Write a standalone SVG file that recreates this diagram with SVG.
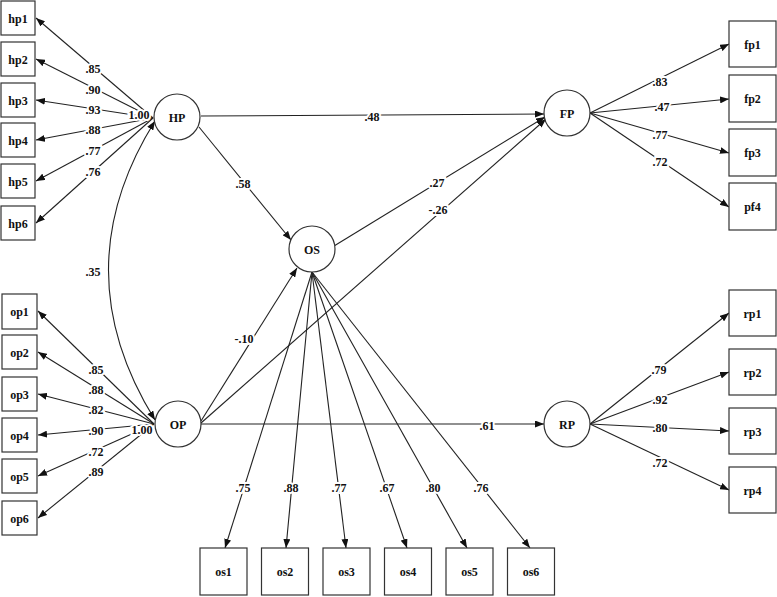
<svg xmlns="http://www.w3.org/2000/svg" width="777" height="597" viewBox="0 0 777 597">
<style>
.box{fill:#fff;stroke:#333;stroke-width:1.2}
.lat{fill:#fff;stroke:#333;stroke-width:1.2}
.t{font-family:"Liberation Serif",serif;font-weight:bold;font-size:12px;fill:#111;text-anchor:middle;dominant-baseline:central}
.ln{stroke:#222;stroke-width:1.1;fill:none}
.a{marker-end:url(#ah)}
.lb{font-family:"Liberation Serif",serif;font-weight:bold;font-size:12px;fill:#111;text-anchor:middle;dominant-baseline:central;stroke:#fff;stroke-width:4;paint-order:stroke}
</style>
<defs>
<marker id="ah" markerUnits="userSpaceOnUse" markerWidth="9" markerHeight="7" refX="9" refY="3.5" orient="auto">
<path d="M0,0 L9,3.5 L0,7 z" fill="#111"/>
</marker>
<marker id="ahs" markerUnits="userSpaceOnUse" markerWidth="9" markerHeight="7" refX="0" refY="3.5" orient="auto">
<path d="M9,0 L0,3.5 L9,7 z" fill="#111"/>
</marker>
</defs>
<rect width="777" height="597" fill="#fff"/>
<g id="connectors">
<!-- HP loadings -->
<line class="ln a" x1="153" y1="118" x2="36" y2="18"/>
<line class="ln a" x1="153" y1="118" x2="36" y2="59"/>
<line class="ln a" x1="153" y1="118" x2="36" y2="100"/>
<line class="ln a" x1="153" y1="118" x2="36" y2="140"/>
<line class="ln a" x1="153" y1="118" x2="36" y2="181"/>
<line class="ln a" x1="153" y1="118" x2="36" y2="223"/>
<!-- OP loadings -->
<line class="ln a" x1="154" y1="424" x2="38" y2="311"/>
<line class="ln a" x1="154" y1="424" x2="38" y2="352"/>
<line class="ln a" x1="154" y1="424" x2="38" y2="394"/>
<line class="ln a" x1="154" y1="424" x2="38" y2="435"/>
<line class="ln a" x1="154" y1="424" x2="38" y2="476"/>
<line class="ln a" x1="154" y1="424" x2="38" y2="518"/>
<!-- covariance -->
<path class="ln" d="M155,121 Q62,270 155,420" marker-start="url(#ahs)" marker-end="url(#ah)"/>
<!-- structural -->
<line class="ln a" x1="201" y1="116" x2="544" y2="114"/>
<line class="ln a" x1="199" y1="127" x2="291" y2="240"/>
<line class="ln a" x1="334" y1="246" x2="545" y2="117"/>
<line class="ln a" x1="201" y1="423" x2="546" y2="119"/>
<line class="ln a" x1="201" y1="421" x2="297" y2="268"/>
<line class="ln a" x1="201" y1="424" x2="544" y2="424"/>
<!-- FP loadings -->
<line class="ln a" x1="590" y1="113" x2="729" y2="44"/>
<line class="ln a" x1="590" y1="113" x2="729" y2="99"/>
<line class="ln a" x1="590" y1="113" x2="729" y2="153"/>
<line class="ln a" x1="590" y1="113" x2="729" y2="207"/>
<!-- RP loadings -->
<line class="ln a" x1="590" y1="424" x2="729" y2="313"/>
<line class="ln a" x1="590" y1="424" x2="729" y2="372"/>
<line class="ln a" x1="590" y1="424" x2="729" y2="431"/>
<line class="ln a" x1="590" y1="424" x2="729" y2="490"/>
<!-- OS loadings -->
<line class="ln a" x1="312" y1="272" x2="225" y2="548"/>
<line class="ln a" x1="312" y1="272" x2="286" y2="548"/>
<line class="ln a" x1="312" y1="272" x2="346" y2="548"/>
<line class="ln a" x1="312" y1="272" x2="407" y2="548"/>
<line class="ln a" x1="312" y1="272" x2="467" y2="548"/>
<line class="ln a" x1="312" y1="272" x2="530" y2="548"/>
<!-- labels -->
<text class="lb" x="93" y="69">.85</text>
<text class="lb" x="93" y="90">.90</text>
<text class="lb" x="93" y="110">.93</text>
<text class="lb" x="93" y="130">.88</text>
<text class="lb" x="93" y="151">.77</text>
<text class="lb" x="93" y="172">.76</text>
<text class="lb" x="139" y="115">1.00</text>
<text class="lb" x="96" y="370">.85</text>
<text class="lb" x="96" y="390">.88</text>
<text class="lb" x="96" y="410">.82</text>
<text class="lb" x="96" y="431">.90</text>
<text class="lb" x="96" y="452">.72</text>
<text class="lb" x="96" y="472">.89</text>
<text class="lb" x="142" y="430">1.00</text>
<text class="lb" x="93" y="272">.35</text>
<text class="lb" x="372" y="117">.48</text>
<text class="lb" x="243" y="184">.58</text>
<text class="lb" x="437" y="183">.27</text>
<text class="lb" x="438" y="210">-.26</text>
<text class="lb" x="244" y="339">-.10</text>
<text class="lb" x="487" y="426">.61</text>
<text class="lb" x="660" y="82">.83</text>
<text class="lb" x="662" y="107">.47</text>
<text class="lb" x="660" y="135">.77</text>
<text class="lb" x="660" y="162">.72</text>
<text class="lb" x="659" y="370">.79</text>
<text class="lb" x="660" y="400">.92</text>
<text class="lb" x="660" y="428">.80</text>
<text class="lb" x="660" y="463">.72</text>
<text class="lb" x="243" y="488">.75</text>
<text class="lb" x="291" y="488">.88</text>
<text class="lb" x="339" y="488">.77</text>
<text class="lb" x="387" y="488">.67</text>
<text class="lb" x="433" y="488">.80</text>
<text class="lb" x="481" y="488">.76</text>
</g>
<g id="HP"><circle class="lat" cx="177" cy="117" r="23"/><text class="t" x="177" y="118">HP</text></g>
<g id="OP"><circle class="lat" cx="178" cy="424" r="23"/><text class="t" x="178" y="425">OP</text></g>
<g id="OS"><circle class="lat" cx="312" cy="249" r="23"/><text class="t" x="312" y="250">OS</text></g>
<g id="FP"><circle class="lat" cx="567" cy="113" r="23"/><text class="t" x="567" y="114">FP</text></g>
<g id="RP"><circle class="lat" cx="567" cy="424" r="23"/><text class="t" x="567" y="425">RP</text></g>
<g id="hp1"><rect class="box" x="1" y="1" width="34" height="34"/><text class="t" x="18" y="19">hp1</text></g>
<g id="hp2"><rect class="box" x="1" y="42" width="34" height="34"/><text class="t" x="18" y="60">hp2</text></g>
<g id="hp3"><rect class="box" x="1" y="83" width="34" height="34"/><text class="t" x="18" y="101">hp3</text></g>
<g id="hp4"><rect class="box" x="1" y="123" width="34" height="34"/><text class="t" x="18" y="141">hp4</text></g>
<g id="hp5"><rect class="box" x="1" y="164" width="34" height="34"/><text class="t" x="18" y="182">hp5</text></g>
<g id="hp6"><rect class="box" x="1" y="206" width="34" height="34"/><text class="t" x="18" y="224">hp6</text></g>
<g id="op1"><rect class="box" x="2" y="294" width="35" height="35"/><text class="t" x="19.5" y="312">op1</text></g>
<g id="op2"><rect class="box" x="2" y="335" width="35" height="34"/><text class="t" x="19.5" y="353">op2</text></g>
<g id="op3"><rect class="box" x="2" y="377" width="35" height="34"/><text class="t" x="19.5" y="395">op3</text></g>
<g id="op4"><rect class="box" x="2" y="418" width="35" height="34"/><text class="t" x="19.5" y="436">op4</text></g>
<g id="op5"><rect class="box" x="2" y="459" width="35" height="34"/><text class="t" x="19.5" y="477">op5</text></g>
<g id="op6"><rect class="box" x="2" y="501" width="35" height="34"/><text class="t" x="19.5" y="519">op6</text></g>
<g id="fp1"><rect class="box" x="729" y="21" width="47" height="46"/><text class="t" x="752.5" y="45">fp1</text></g>
<g id="fp2"><rect class="box" x="729" y="75" width="47" height="47"/><text class="t" x="752.5" y="99">fp2</text></g>
<g id="fp3"><rect class="box" x="729" y="129" width="47" height="47"/><text class="t" x="752.5" y="153">fp3</text></g>
<g id="pf4"><rect class="box" x="729" y="183" width="47" height="47"/><text class="t" x="752.5" y="207">pf4</text></g>
<g id="rp1"><rect class="box" x="729" y="290" width="47" height="46"/><text class="t" x="752.5" y="314">rp1</text></g>
<g id="rp2"><rect class="box" x="729" y="349" width="47" height="46"/><text class="t" x="752.5" y="373">rp2</text></g>
<g id="rp3"><rect class="box" x="729" y="408" width="47" height="46"/><text class="t" x="752.5" y="432">rp3</text></g>
<g id="rp4"><rect class="box" x="729" y="467" width="47" height="46"/><text class="t" x="752.5" y="491">rp4</text></g>
<g id="os1"><rect class="box" x="200" y="548" width="47" height="47"/><text class="t" x="223.5" y="572">os1</text></g>
<g id="os2"><rect class="box" x="261.5" y="548" width="47" height="47"/><text class="t" x="285" y="572">os2</text></g>
<g id="os3"><rect class="box" x="323" y="548" width="47" height="47"/><text class="t" x="346.5" y="572">os3</text></g>
<g id="os4"><rect class="box" x="384.5" y="548" width="47" height="47"/><text class="t" x="408" y="572">os4</text></g>
<g id="os5"><rect class="box" x="446" y="548" width="47" height="47"/><text class="t" x="469.5" y="572">os5</text></g>
<g id="os6"><rect class="box" x="507.5" y="548" width="47" height="47"/><text class="t" x="531" y="572">os6</text></g>
</svg>
